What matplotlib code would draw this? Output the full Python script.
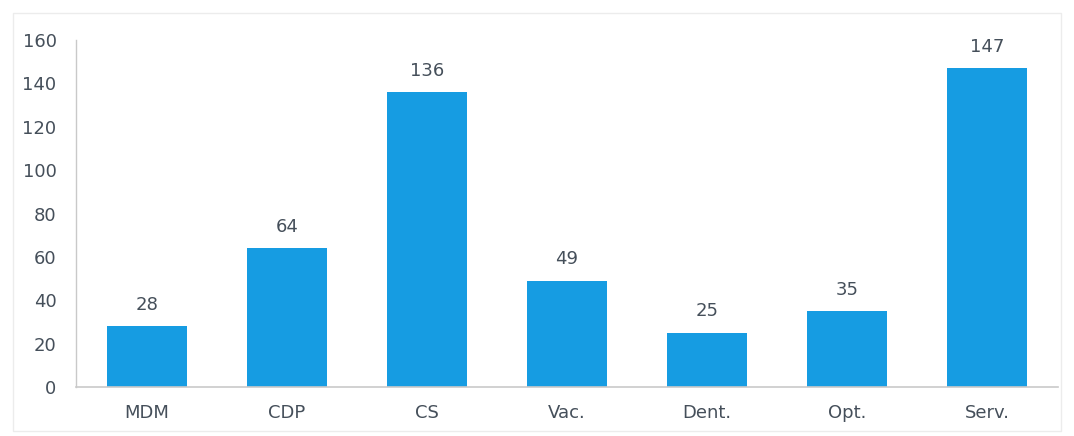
import matplotlib.pyplot as plt
import matplotlib.patches as mpatches

# data
categories = ['MDM', 'CDP', 'CS', 'Vac.', 'Dent.', 'Opt.', 'Serv.']
values = [28, 64, 136, 49, 25, 35, 147]
y_ticks = [0, 20, 40, 60, 80, 100, 120, 140, 160]

bar_c = '#169ce2'
txt_c = '#454f5a'
axis_c = '#c9c9c9'

plt.rcParams['font.family'] = ['DejaVu Sans']

fig = plt.figure(figsize=(10.74, 4.36), dpi=100)
ax = fig.add_axes([0.0708, 0.1124, 0.9142, 0.7956])

x = range(len(categories))
bars = ax.bar(x, values, width=0.575, color=bar_c, zorder=2)

for b, v in zip(bars, values):
    ax.annotate(f'{v}', (b.get_x() + b.get_width() / 2, v), xytext=(0, 9),
                textcoords='offset points', ha='center', va='bottom',
                fontsize=13, color=txt_c)

ax.set_xlim(-0.505, 6.505)
ax.set_ylim(0, 160)
ax.set_xticks(list(x), categories)
ax.set_yticks(y_ticks)

for s in ['top', 'right']:
    ax.spines[s].set_visible(False)
ax.spines['left'].set_color(axis_c)
ax.spines['left'].set_linestyle((0, (2, 1)))
ax.spines['bottom'].set_color(axis_c)
ax.spines['left'].set_linewidth(1.0)
ax.spines['bottom'].set_linewidth(1.2)

ax.tick_params(axis='both', length=0, labelsize=13, colors=txt_c)
ax.tick_params(axis='y', pad=14)
ax.tick_params(axis='x', pad=12)

# faint frame of the scanned page
fig.patches.append(mpatches.Rectangle((0.012, 0.012), 0.976, 0.958, transform=fig.transFigure,
                                      fill=False, ec='#ececec', lw=1.0))

fig.savefig('out.png', dpi=100)
